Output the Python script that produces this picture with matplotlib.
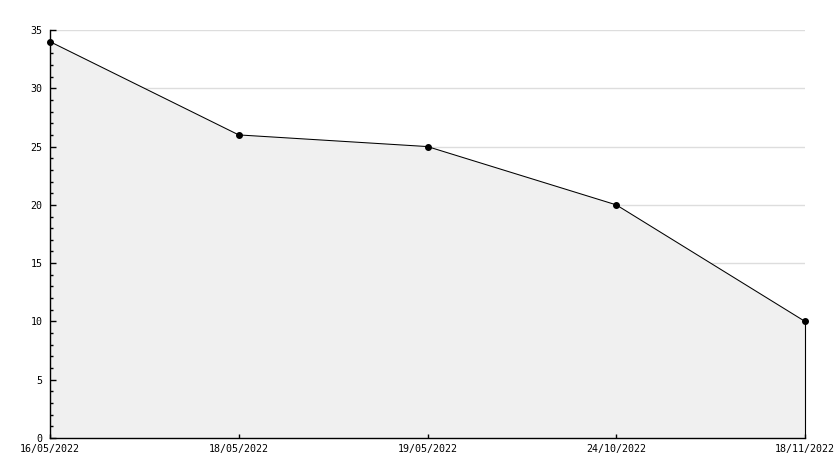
import matplotlib
matplotlib.use("Agg")
import matplotlib.pyplot as plt
from matplotlib.ticker import MultipleLocator

dates = ["16/05/2022", "18/05/2022", "19/05/2022", "24/10/2022", "18/11/2022"]
values = [34, 26, 25, 20, 10]

fig = plt.figure(figsize=(8.34, 4.68), dpi=100)
ax = fig.add_axes([50/834, 30/468, 755/834, 408/468])
x = list(range(len(dates)))

ax.set_xlim(0, len(dates) - 1)
ax.set_ylim(0, 35)
ax.yaxis.set_major_locator(MultipleLocator(5))
ax.yaxis.set_minor_locator(MultipleLocator(1))
for yv in range(5, 36, 5):
    ax.axhline(yv, color="#dddddd", linewidth=1, zorder=0)

ax.fill_between(x, values, 0, facecolor="#f0f0f0", edgecolor="none", zorder=1)
ax.plot([x[-1], x[-1]], [0, values[-1]], color="black", linewidth=0.8, zorder=2, clip_on=False)
ax.plot(x, values, color="black", linewidth=0.75, marker="o", markersize=4, zorder=3, clip_on=False)

ax.set_xticks(x)
ax.set_xticklabels(dates)
for s in ["top", "right"]:
    ax.spines[s].set_visible(False)
ax.spines["left"].set_linewidth(1)
ax.spines["bottom"].set_linewidth(1)
ax.spines["left"].set_zorder(4)
ax.spines["bottom"].set_zorder(4)
ax.tick_params(axis="y", which="major", direction="in", length=4, width=1, labelsize=7.2, pad=5.5)
ax.tick_params(axis="y", which="minor", direction="in", length=2.5, width=1)
ax.tick_params(axis="x", direction="in", length=3, width=1, labelsize=7.2, pad=4)
for lab in ax.get_xticklabels() + ax.get_yticklabels():
    lab.set_family("DejaVu Sans Mono")

fig.savefig("out.png", dpi=100)
